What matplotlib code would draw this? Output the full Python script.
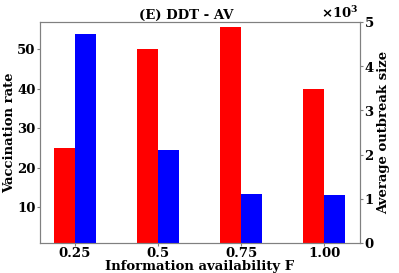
import numpy as np
import matplotlib
matplotlib.use('Agg')
import matplotlib.pyplot as plt

# data
info_levels = ['0.25', '0.5', '0.75', '1.00']
vacc_rate = [25, 50, 55.8, 40]          # red, left axis
outbreak_size = [4730, 2100, 1110, 1090]  # blue, right axis

plt.rcParams['font.family'] = 'DejaVu Serif'
plt.rcParams['font.weight'] = 'bold'
plt.rcParams['font.size'] = 9.5

x = np.arange(len(info_levels))
w = 0.25

fig, ax = plt.subplots(figsize=(3.99, 2.73), dpi=100)
fig.subplots_adjust(left=0.10, right=0.902, top=0.92, bottom=0.11)
ax2 = ax.twinx()

ax.bar(x - w / 2, vacc_rate, w, color='red')
ax2.bar(x + w / 2, outbreak_size, w, color='blue')

ax.set_xlim(-0.42, 3.43)
ax.set_ylim(1, 57)
ax2.set_ylim(0, 5000)
ax.set_yticks([10, 20, 30, 40, 50])
ax2.set_yticks([0, 1000, 2000, 3000, 4000, 5000])
ax2.ticklabel_format(axis='y', style='sci', scilimits=(3, 3), useMathText=True)
ax2.yaxis.get_offset_text().set_horizontalalignment('right')
ax2.yaxis.get_offset_text().set_x(0.995)
ax.set_xticks(x)
ax.set_xticklabels(info_levels)

for a in (ax, ax2):
    for s in a.spines.values():
        s.set_color('gray')
    a.tick_params(length=2, color='gray', pad=1, labelsize=9.5)

ax.set_xlabel('Information availability F', fontweight='bold', labelpad=0)
ax.set_ylabel('Vaccination rate', fontweight='bold', labelpad=1)
ax2.set_ylabel('Average outbreak size', fontweight='bold', labelpad=2)
ax.set_title('(E) DDT - AV', fontweight='bold', fontsize=9.5, pad=1, x=0.456)

plt.savefig('out.png', dpi=100)
